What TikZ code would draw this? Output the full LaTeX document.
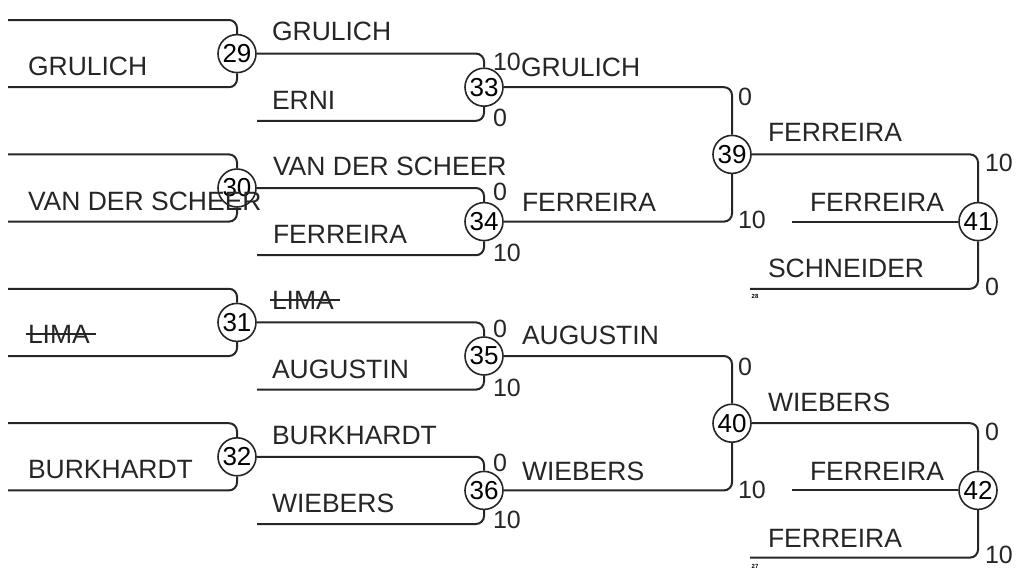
\documentclass[tikz,border=0pt]{standalone}
\usepackage{fontspec}
\setmainfont{Liberation Sans}
\begin{document}
\begin{tikzpicture}[x=1pt,y=-1pt,
  conn/.style={line width=2pt, draw=black!85, rounded corners=8pt},
  lbl/.style={anchor=west, inner sep=0pt, outer sep=0pt, font=\fontsize{26.5}{30}\selectfont, text=black!85},
  score/.style={anchor=west, inner sep=0pt, outer sep=0pt, font=\fontsize{25}{28}\selectfont, text=black!85},
  tiny/.style={inner sep=0pt, font=\fontsize{6}{6}\selectfont\bfseries},
  num/.style={circle, draw=black!85, fill=white, line width=1.6pt, minimum size=38pt, inner sep=0pt, font=\fontsize{26}{28}\selectfont},
  strike/.style={line width=1.5pt, draw=black!85}]
\useasboundingbox (0,0) rectangle (1017,571);
% match circles
\node[num] (m29) at (237,53.6) {29};
\node[num] (m30) at (237,188) {30};
\node[num] (m31) at (237,322.4) {31};
\node[num] (m32) at (237,456.8) {32};
\node[num] (m33) at (484,87.2) {33};
\node[num] (m34) at (484,221.6) {34};
\node[num] (m35) at (484,356) {35};
\node[num] (m36) at (484,490.4) {36};
\node[num] (m39) at (732,154.4) {39};
\node[num] (m40) at (732,423.2) {40};
\node[num] (m41) at (978,221.6) {41};
\node[num] (m42) at (978,490.4) {42};
% free ends
\coordinate (a29t) at (8,20);    \coordinate (a29b) at (8,87.2);
\coordinate (a30t) at (8,154.4); \coordinate (a30b) at (8,221.6);
\coordinate (a31t) at (8,288.8); \coordinate (a31b) at (8,356);
\coordinate (a32t) at (8,423.2); \coordinate (a32b) at (8,490.4);
\coordinate (b33) at (257,120.8); \coordinate (b34) at (257,255.2);
\coordinate (b35) at (257,389.6); \coordinate (b36) at (257,524);
\coordinate (c41m) at (792,221.6); \coordinate (c41b) at (750,288.8);
\coordinate (c42m) at (792,490.4); \coordinate (c42b) at (750,557.6);
% connectors
\draw[conn] (a29t) -| (m29.north); \draw[conn] (a29b) -| (m29.south);
\draw[conn] (a30t) -| (m30.north); \draw[conn] (a30b) -| (m30.south);
\draw[conn] (a31t) -| (m31.north); \draw[conn] (a31b) -| (m31.south);
\draw[conn] (a32t) -| (m32.north); \draw[conn] (a32b) -| (m32.south);
\draw[conn] (m29.east) -| (m33.north); \draw[conn] (b33) -| (m33.south);
\draw[conn] (m30.east) -| (m34.north); \draw[conn] (b34) -| (m34.south);
\draw[conn] (m31.east) -| (m35.north); \draw[conn] (b35) -| (m35.south);
\draw[conn] (m32.east) -| (m36.north); \draw[conn] (b36) -| (m36.south);
\draw[conn] (m33.east) -| (m39.north); \draw[conn] (m34.east) -| (m39.south);
\draw[conn] (m35.east) -| (m40.north); \draw[conn] (m36.east) -| (m40.south);
\draw[conn] (m39.east) -| (m41.north); \draw[conn] (c41m) -- (m41.west); \draw[conn] (c41b) -| (m41.south);
\draw[conn] (m40.east) -| (m42.north); \draw[conn] (c42m) -- (m42.west); \draw[conn] (c42b) -| (m42.south);
% names, column 1
\node[lbl] (t29) at (28,66) {GRULICH};
\node[lbl] (t30) at (28,201) {VAN DER SCHEER};
\node[lbl] (t31) at (28,334) {LIMA};
\node[lbl] (t32) at (28,470) {BURKHARDT};
% column 2
\node[lbl] (u33a) at (272,31) {GRULICH};
\node[lbl] (u33b) at (272,100) {ERNI};
\node[lbl] (u34a) at (273,166) {VAN DER SCHEER};
\node[lbl] (u34b) at (273,234) {FERREIRA};
\node[lbl] (u35a) at (272,300) {LIMA};
\node[lbl] (u35b) at (272,369) {AUGUSTIN};
\node[lbl] (u36a) at (272,436) {BURKHARDT};
\node[lbl] (u36b) at (272,503) {WIEBERS};
% column 3
\node[lbl] (v39a) at (521,67) {GRULICH};
\node[lbl] (v39b) at (522,202) {FERREIRA};
\node[lbl] (v40a) at (522,335) {AUGUSTIN};
\node[lbl] (v40b) at (522,471) {WIEBERS};
% column 4
\node[lbl] (w41a) at (768,132) {FERREIRA};
\node[lbl] (w41m) at (810,202) {FERREIRA};
\node[lbl] (w41b) at (768,268) {SCHNEIDER};
\node[lbl] (w42a) at (768,402) {WIEBERS};
\node[lbl] (w42m) at (810,471) {FERREIRA};
\node[lbl] (w42b) at (768,538) {FERREIRA};
% strike-outs
\draw[strike] ([xshift=-2pt]t31.west) -- ([xshift=6pt]t31.east);
\draw[strike] ([xshift=-2pt]u35a.west) -- ([xshift=6pt]u35a.east);
% scores
\node[score] (s33a) at (493,62) {10};  \node[score] (s33b) at (493,118) {0};
\node[score] (s34a) at (493,192) {0};  \node[score] (s34b) at (493,253) {10};
\node[score] (s35a) at (493,329) {0};  \node[score] (s35b) at (493,388) {10};
\node[score] (s36a) at (493,463) {0};  \node[score] (s36b) at (493,520) {10};
\node[score] (s39a) at (738,97) {0};   \node[score] (s39b) at (738,220) {10};
\node[score] (s40a) at (738,367) {0};  \node[score] (s40b) at (738,490) {10};
\node[score] (s41a) at (985,163) {10}; \node[score] (s41b) at (985,287) {0};
\node[score] (s42a) at (985,432) {0};  \node[score] (s42b) at (985,555) {10};
% tiny seed numbers
\node[tiny] (n28) at (755,296) {28};
\node[tiny] (n27) at (755,566) {27};
\end{tikzpicture}
\end{document}
